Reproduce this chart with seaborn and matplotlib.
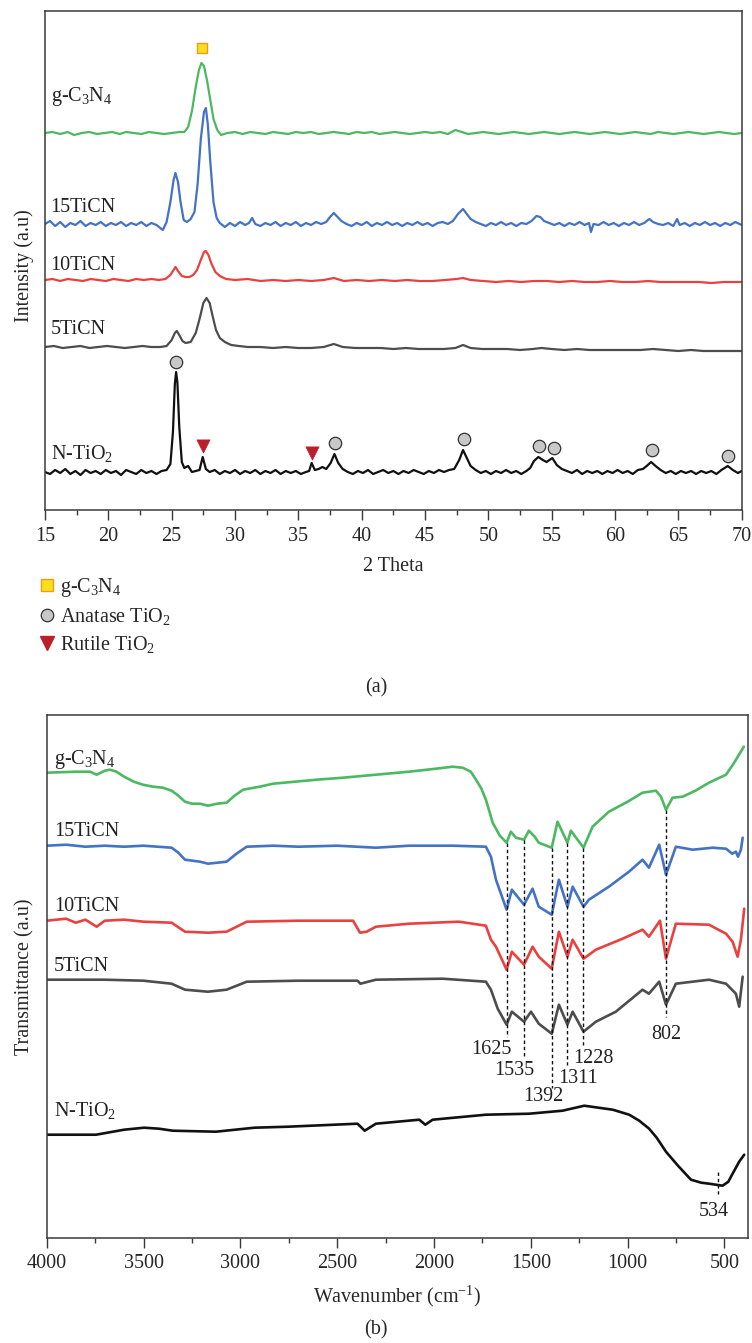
import matplotlib
matplotlib.use("Agg")
import matplotlib.pyplot as plt
from matplotlib.lines import Line2D
from matplotlib.ticker import MultipleLocator
import seaborn as sns
import pandas as pd

# ---------------- (a) XRD, intensities relative to each trace's baseline ----------------
xrd_gcn = [(15.0, 0), (15.6, 1), (16.2, -1), (16.8, 1), (17.3, -2), (17.9, 0), (18.5, 1), (19.1, -1),
           (19.7, 0), (20.3, 1), (20.9, -1), (21.4, 1), (22.0, 0), (22.6, -1), (23.2, 1), (23.8, 0),
           (24.4, -1), (25.0, 0), (25.6, 1), (26.0, 1), (26.3, 6), (26.6, 22), (26.9, 46), (27.15, 63),
           (27.35, 70), (27.55, 67), (27.8, 52), (28.05, 33), (28.3, 14), (28.6, 3), (28.9, -2),
           (29.4, 0), (30.0, 1), (30.6, -1), (31.2, 1), (31.8, 0), (32.4, -1), (33.0, 1), (33.6, 0),
           (34.2, -1), (34.8, 1), (35.4, 0), (36.0, 1), (36.6, -1), (37.2, 0), (37.8, 1), (38.4, 0),
           (39.0, -1), (39.6, 1), (40.2, 0), (40.8, 1), (41.4, -1), (42.0, 0), (42.6, 1), (43.2, 0),
           (43.8, -1), (44.4, 0), (45.0, 1), (45.6, 0), (46.2, 1), (46.8, -1), (47.4, 3), (47.9, 1),
           (48.4, -1), (49.0, 0), (49.6, 1), (50.2, 0), (50.8, -1), (51.4, 0), (52.0, 1), (52.6, 0),
           (53.2, -1), (53.8, 0), (54.4, 1), (55.0, 0), (55.6, -1), (56.2, 0), (56.8, 1), (57.4, 0),
           (58.0, -1), (58.6, 0), (59.2, 1), (59.8, 0), (60.4, -1), (61.0, 0), (61.6, 1), (62.2, 0),
           (62.8, -1), (63.4, 1), (64.0, 0), (64.6, -1), (65.2, 0), (65.8, 1), (66.4, 0), (67.0, -1),
           (67.6, 0), (68.2, 1), (68.8, 0), (69.4, -1), (70.0, 0)]

xrd_15 = [(15.0, 0), (15.4, 3), (15.8, -2), (16.2, 2), (16.6, -3), (17.0, 1), (17.4, -1), (17.8, 3),
          (18.2, -2), (18.6, 1), (19.0, -1), (19.4, 2), (19.8, -2), (20.2, 1), (20.6, -1), (21.0, 2),
          (21.4, -2), (21.8, 1), (22.2, -1), (22.6, 2), (23.0, -2), (23.4, 1), (23.8, -1), (24.3, -6),
          (24.6, 2), (24.9, 22), (25.15, 44), (25.3, 51), (25.5, 42), (25.7, 22), (25.95, 4), (26.2, 2),
          (26.5, 5), (26.8, 12), (27.05, 40), (27.3, 85), (27.55, 112), (27.7, 116), (27.85, 100),
          (28.05, 62), (28.3, 22), (28.55, 6), (28.8, 1), (29.2, -3), (29.6, 1), (30.0, -2), (30.4, 2),
          (30.8, -1), (31.1, 1), (31.35, 6), (31.6, 0), (32.0, -2), (32.4, 1), (32.8, -1), (33.2, 2),
          (33.6, -2), (34.0, 1), (34.4, -1), (34.8, 2), (35.2, -2), (35.6, 1), (36.0, -1), (36.4, 2),
          (36.8, 0), (37.2, 2), (37.5, 7), (37.8, 11), (38.1, 7), (38.4, 3), (38.8, 0), (39.2, -2),
          (39.6, 1), (40.0, -1), (40.4, 2), (40.8, -2), (41.2, 1), (41.6, -1), (42.0, 2), (42.4, -1),
          (42.8, 1), (43.2, -2), (43.6, 1), (44.0, -1), (44.4, 2), (44.8, -1), (45.2, 1), (45.6, -2),
          (46.0, 1), (46.4, 2), (46.8, 0), (47.2, 3), (47.6, 10), (48.0, 15), (48.3, 10), (48.6, 5),
          (49.0, 2), (49.4, 0), (49.8, -2), (50.2, 1), (50.6, -1), (51.0, 2), (51.4, -1), (51.8, 1),
          (52.2, -2), (52.6, 1), (53.0, 0), (53.4, 3), (53.8, 8), (54.1, 7), (54.4, 3), (54.8, 1),
          (55.2, -1), (55.6, 1), (56.0, -2), (56.4, 1), (56.8, -1), (57.2, 2), (57.6, -1), (57.95, 1),
          (58.1, -8), (58.3, 0), (58.7, -1), (59.1, 2), (59.5, -1), (59.9, 1), (60.3, -2), (60.7, 1),
          (61.1, -1), (61.5, 2), (61.9, -1), (62.3, 1), (62.7, 5), (63.0, 2), (63.4, 0), (63.8, -1),
          (64.2, 1), (64.6, -2), (64.9, 5), (65.1, -1), (65.5, 1), (65.9, -2), (66.3, 1), (66.7, -1),
          (67.1, 2), (67.5, -1), (67.9, 1), (68.3, -2), (68.7, 1), (69.1, -1), (69.5, 2), (70.0, -1)]

xrd_10 = [(15.0, 0), (15.6, 1), (16.2, -1), (16.8, 1), (17.4, 0), (18.0, -1), (18.6, 1), (19.2, 0),
          (19.8, -1), (20.4, 1), (21.0, 0), (21.6, -1), (22.2, 1), (22.8, 0), (23.4, 1), (24.0, 0),
          (24.5, 1), (24.9, 5), (25.15, 10), (25.3, 13), (25.5, 9), (25.8, 4), (26.1, 3), (26.4, 3),
          (26.7, 5), (27.0, 10), (27.3, 20), (27.55, 28), (27.7, 29), (27.9, 25), (28.15, 16),
          (28.45, 8), (28.8, 4), (29.3, 1), (30.0, 0), (31.0, 1), (32.0, -1), (33.0, 0), (34.0, -1),
          (35.0, 0), (36.0, -1), (37.0, 0), (37.8, 2), (38.6, -1), (39.6, 0), (40.6, -1), (41.6, 0),
          (42.6, -1), (43.6, 0), (44.6, -1), (45.6, -1), (46.6, 0), (47.5, 1), (48.0, 2), (48.6, 0),
          (49.6, -1), (50.6, -2), (51.6, -1), (52.6, -2), (53.6, -1), (54.6, -1), (55.6, -2),
          (56.6, -1), (57.6, -2), (58.6, -2), (59.6, -1), (60.6, -2), (61.6, -2), (62.6, -1),
          (63.6, -2), (64.6, -2), (65.6, -2), (66.6, -2), (67.6, -3), (68.6, -2), (69.6, -2), (70.0, -2)]

xrd_5 = [(15.0, 0), (15.7, 1), (16.4, -1), (17.1, 0), (17.8, 1), (18.5, -1), (19.2, 0), (19.9, 1),
         (20.6, 0), (21.3, -1), (22.0, 0), (22.7, 1), (23.4, 0), (24.1, 0), (24.6, 1), (25.0, 7),
         (25.25, 14), (25.4, 16), (25.6, 12), (25.85, 6), (26.1, 4), (26.5, 5), (26.9, 14), (27.2, 28),
         (27.5, 44), (27.75, 49), (28.0, 44), (28.25, 30), (28.5, 17), (28.8, 9), (29.2, 5), (29.7, 2),
         (30.3, 1), (31.0, 0), (32.0, 0), (33.0, -1), (34.0, 0), (35.0, -1), (36.0, -1), (37.0, 0),
         (37.8, 3), (38.5, 0), (39.5, -1), (40.5, -1), (41.5, -1), (42.5, -2), (43.5, -1), (44.5, -2),
         (45.5, -2), (46.5, -2), (47.4, -1), (48.0, 2), (48.6, -1), (49.5, -2), (50.5, -2), (51.5, -2),
         (52.5, -3), (53.5, -2), (54.2, -1), (55.0, -2), (56.0, -3), (57.0, -2), (58.0, -3), (59.0, -3),
         (60.0, -3), (61.0, -3), (62.0, -3), (63.0, -2), (64.0, -3), (65.0, -4), (66.0, -3), (67.0, -4),
         (68.0, -4), (69.0, -4), (70.0, -4)]

xrd_ntio2 = [(15.0, 0), (15.4, -2), (15.8, 2), (16.2, -1), (16.6, 3), (17.0, -2), (17.4, 1), (17.8, -3),
             (18.2, 2), (18.6, -1), (19.0, 1), (19.4, -2), (19.8, 2), (20.2, -1), (20.6, 1), (21.0, -3),
             (21.4, 2), (21.8, 0), (22.2, -2), (22.6, 2), (23.0, -1), (23.4, 1), (23.8, -2), (24.2, 1),
             (24.6, 2), (24.9, 8), (25.1, 40), (25.25, 88), (25.35, 100), (25.45, 90), (25.6, 45),
             (25.8, 10), (26.0, 4), (26.3, 6), (26.6, 0), (26.9, 1), (27.2, 2), (27.45, 15), (27.7, 3),
             (28.0, 0), (28.4, 2), (28.8, -2), (29.2, 1), (29.6, -1), (30.0, 2), (30.4, -2), (30.8, 1),
             (31.2, -1), (31.6, 2), (32.0, -2), (32.4, 1), (32.8, -1), (33.2, 2), (33.6, -2), (34.0, 1),
             (34.4, -1), (34.8, 1), (35.2, -2), (35.6, 0), (35.85, 1), (36.05, 9), (36.3, 2), (36.6, 3),
             (36.9, 5), (37.2, 3), (37.55, 9), (37.85, 18), (38.15, 9), (38.5, 3), (38.9, 0), (39.3, -2),
             (39.7, 1), (40.1, -1), (40.5, 2), (40.9, -2), (41.3, 0), (41.7, 2), (42.1, -1), (42.5, 1),
             (42.9, -2), (43.3, 1), (43.7, -1), (44.1, 2), (44.5, 0), (44.9, -2), (45.3, 1), (45.7, -1),
             (46.1, 2), (46.5, 0), (46.9, 2), (47.3, 3), (47.7, 12), (48.0, 22), (48.3, 14), (48.6, 6),
             (49.0, 2), (49.4, -1), (49.8, 1), (50.2, -2), (50.6, 1), (51.0, -1), (51.4, 2), (51.8, -1),
             (52.2, 1), (52.6, -2), (53.0, 1), (53.3, 4), (53.6, 11), (53.95, 15), (54.3, 12), (54.6, 10),
             (55.05, 14), (55.4, 7), (55.8, 3), (56.2, 1), (56.6, -1), (57.0, 2), (57.4, -2), (57.8, 1),
             (58.2, -1), (58.6, 1), (59.0, -2), (59.4, 1), (59.8, -1), (60.2, 2), (60.6, -1), (61.0, 1),
             (61.4, -2), (61.8, 2), (62.2, 3), (62.5, 6), (62.85, 10), (63.2, 6), (63.6, 2), (64.0, -1),
             (64.4, 1), (64.8, -2), (65.2, 1), (65.6, -1), (66.0, 1), (66.4, -2), (66.8, 1), (67.2, -1),
             (67.6, 1), (68.0, -2), (68.4, 2), (68.9, 6), (69.3, 2), (69.7, -1), (70.0, 1)]

xrd_samples = ["g-C$_3$N$_4$", "15TiCN", "10TiCN", "5TiCN", "N-TiO$_2$"]
xrd_traces = [xrd_gcn, xrd_15, xrd_10, xrd_5, xrd_ntio2]
xrd_offsets = [377, 286, 230, 163, 38]
xrd_label_y = [414, 303, 244, 180, 57]

# phase markers (2 theta, intensity)
gcn_marks = [(27.4, 462)]
anatase_marks = [(25.35, 148), (37.9, 67), (48.05, 71), (54.0, 64), (55.15, 62), (62.9, 60), (68.95, 54)]
rutile_marks = [(27.45, 64), (36.05, 57)]

# ---------------- (b) FTIR ----------------
ftir_gcn = [(4000, 465), (3850, 466), (3776, 466), (3742, 463), (3700, 467), (3673, 468), (3640, 466),
            (3600, 461), (3550, 456), (3503, 453), (3450, 451), (3400, 450), (3355, 447), (3320, 442),
            (3286, 436), (3250, 434), (3208, 434), (3167, 432), (3120, 434), (3071, 435), (3030, 442),
            (2986, 448), (2900, 451), (2831, 454), (2606, 458), (2470, 460), (2300, 463), (2129, 466),
            (1990, 469), (1904, 471), (1852, 470), (1810, 466), (1783, 458), (1755, 449), (1732, 438),
            (1712, 425), (1697, 415), (1660, 402), (1625, 395), (1603, 406), (1577, 400), (1535, 398),
            (1510, 407), (1480, 401), (1459, 395), (1392, 390), (1362, 416), (1311, 395), (1293, 407),
            (1228, 390), (1181, 411), (1097, 426), (1000, 436), (923, 445), (854, 447), (828, 441),
            (802, 428), (768, 440), (716, 441), (650, 447), (580, 455), (492, 463), (450, 475), (400, 491)]
ftir_15 = [(4000, 392), (3900, 393), (3800, 391), (3700, 392), (3600, 391), (3500, 392), (3355, 390),
           (3320, 385), (3286, 378), (3208, 376), (3167, 374), (3071, 376), (3020, 384), (2967, 391),
           (2831, 392), (2700, 391), (2500, 392), (2300, 390), (2129, 392), (1900, 392), (1732, 391),
           (1706, 381), (1680, 358), (1625, 328), (1598, 348), (1535, 333), (1491, 349), (1459, 331),
           (1392, 323), (1355, 358), (1311, 331), (1284, 351), (1228, 331), (1200, 338), (1097, 351),
           (993, 366), (923, 378), (890, 370), (837, 393), (802, 363), (751, 391), (664, 388),
           (560, 390), (492, 389), (460, 384), (441, 386), (430, 381), (415, 388), (406, 400)]
ftir_10 = [(4000, 317), (3900, 319), (3850, 315), (3800, 318), (3742, 311), (3700, 317), (3600, 318),
           (3500, 316), (3355, 315), (3286, 306), (3167, 305), (3071, 306), (2967, 316), (2700, 317),
           (2418, 317), (2382, 305), (2348, 306), (2300, 311), (2129, 314), (1871, 316), (1732, 312),
           (1706, 298), (1680, 291), (1625, 268), (1598, 286), (1535, 273), (1491, 291), (1459, 281),
           (1392, 269), (1355, 306), (1311, 281), (1284, 298), (1228, 279), (1164, 288), (1026, 299),
           (923, 308), (890, 301), (833, 317), (802, 279), (751, 314), (580, 313), (492, 304),
           (458, 296), (432, 281), (415, 298), (398, 329)]
ftir_5 = [(4000, 258), (3700, 258), (3500, 257), (3355, 254), (3286, 248), (3167, 246), (3071, 248),
          (2967, 256), (2700, 257), (2395, 257), (2380, 254), (2300, 258), (1955, 259), (1732, 256),
          (1706, 248), (1671, 229), (1625, 213), (1598, 226), (1535, 216), (1499, 226), (1459, 214),
          (1392, 204), (1355, 233), (1311, 213), (1284, 226), (1228, 206), (1164, 216), (1061, 226),
          (923, 248), (890, 244), (837, 256), (802, 233), (751, 254), (580, 258), (492, 254),
          (441, 244), (424, 231), (406, 261)]
ftir_ntio2 = [(4000, 103), (3745, 103), (3600, 108), (3497, 110), (3420, 109), (3349, 107), (3126, 106),
              (2927, 110), (2754, 111), (2395, 114), (2358, 107), (2300, 114), (2076, 118), (2045, 113),
              (2007, 118), (1732, 123), (1508, 124), (1336, 127), (1224, 132), (1077, 128), (992, 123),
              (940, 117), (889, 109), (850, 100), (802, 86), (740, 72), (673, 58), (620, 55), (579, 54),
              (510, 52), (480, 56), (458, 64), (424, 76), (398, 83)]

ftir_samples = xrd_samples
ftir_traces = [ftir_gcn, ftir_15, ftir_10, ftir_5, ftir_ntio2]
ftir_label_y = [478, 406, 331, 271, 127]

# band assignments: (wavenumber, line top, line bottom, label x, label y)
bands = [(1625, 395, 201, 1706, 188), (1535, 398, 181, 1587, 167), (1392, 390, 150, 1435, 141),
         (1311, 395, 173, 1257, 159), (1228, 390, 193, 1179, 179), (802, 428, 221, 802, 203),
         (534, 66, 44, 556, 26)]

colors = ["#4cb862", "#4472c4", "#e8413f", "#4d4d4d", "#111111"]

sns.set_theme(style="white")
plt.rcParams["font.family"] = ["Liberation Serif", "DejaVu Serif"]
plt.rcParams["mathtext.fontset"] = "custom"
plt.rcParams["mathtext.rm"] = "Liberation Serif"
plt.rcParams["mathtext.it"] = "Liberation Serif:italic"
plt.rcParams["mathtext.default"] = "regular"
FS = 14.5

fig = plt.figure(figsize=(7.52, 13.43), dpi=100)
ax1 = fig.add_axes([45 / 752, 1 - 510 / 1343, (741.7 - 45) / 752, 499 / 1343])
ax2 = fig.add_axes([46.7 / 752, 1 - 1237.7 / 1343, (747.7 - 46.7) / 752, 522.7 / 1343])

# --- XRD ---
rows = []
for name, trace, off in zip(xrd_samples, xrd_traces, xrd_offsets):
    for t, v in trace:
        rows.append({"sample": name, "theta": t, "intensity": v + off})
xrd = pd.DataFrame(rows)
sns.lineplot(data=xrd, x="theta", y="intensity", hue="sample", palette=dict(zip(xrd_samples, colors)),
             estimator=None, lw=1.6, legend=False, ax=ax1)
for name, ly in zip(xrd_samples, xrd_label_y):
    ax1.text(15.45, ly, name, fontsize=FS, ha="left", va="center", color="#222222")

mk = dict(ax=ax1, legend=False, zorder=5)
sns.scatterplot(x=[p[0] for p in gcn_marks], y=[p[1] for p in gcn_marks], marker="s", s=60,
                color="#f8e11a", edgecolor="#f29a1e", linewidth=1.0, **mk)
sns.scatterplot(x=[p[0] for p in anatase_marks], y=[p[1] for p in anatase_marks], marker="o", s=80,
                color="#c8c8c8", edgecolor="#333333", linewidth=0.9, **mk)
sns.scatterplot(x=[p[0] for p in rutile_marks], y=[p[1] for p in rutile_marks], marker="v", s=90,
                color="#b8202c", edgecolor="#b8202c", linewidth=0.5, **mk)

ax1.set_xlim(15, 70)
ax1.set_ylim(0, 499)
ax1.xaxis.set_major_locator(MultipleLocator(5))
ax1.xaxis.set_minor_locator(MultipleLocator(2.5))
ax1.set_yticks([])
ax1.set_xlabel("2 Theta", fontsize=FS)
ax1.set_ylabel("Intensity (a.u)", fontsize=FS)
ax1.xaxis.set_label_coords(0.5, -0.095)
ax1.yaxis.set_label_coords(-0.016, 0.49)

handles = [Line2D([], [], ls="none", marker="s", ms=8, mfc="#f8e11a", mec="#f29a1e", mew=1.0),
           Line2D([], [], ls="none", marker="o", ms=9, mfc="#c8c8c8", mec="#333333", mew=0.9),
           Line2D([], [], ls="none", marker="v", ms=10, mfc="#b8202c", mec="#b8202c")]
fig.legend(handles, ["g-C$_3$N$_4$", "Anatase TiO$_2$", "Rutile TiO$_2$"], loc="upper left",
           bbox_to_anchor=(38 / 752, 1 - 576 / 1343), frameon=False, fontsize=FS,
           handlelength=0.9, handletextpad=0.2, labelspacing=0.35, borderpad=0, borderaxespad=0)

# --- FTIR ---
rows = []
for name, trace in zip(ftir_samples, ftir_traces):
    for w, v in trace:
        rows.append({"sample": name, "wavenumber": w, "transmittance": v})
ftir = pd.DataFrame(rows)
sns.lineplot(data=ftir, x="wavenumber", y="transmittance", hue="sample",
             palette=dict(zip(ftir_samples, colors)), estimator=None, lw=1.9, legend=False, ax=ax2)
for name, ly in zip(ftir_samples, ftir_label_y):
    ax2.text(3962, ly, name, fontsize=FS, ha="left", va="center", color="#222222")
for w, top, bot, lx, lyy in bands:
    ax2.plot([w, w], [top, bot], color="#111111", lw=1.0, ls=(0, (2.5, 2)))
    ax2.text(lx, lyy, str(w), fontsize=FS, ha="center", va="center", color="#222222")

ax2.set_xlim(4000, 380)
ax2.set_ylim(0, 522.7)
ax2.xaxis.set_major_locator(MultipleLocator(500))
ax2.xaxis.set_minor_locator(MultipleLocator(250))
ax2.set_yticks([])
ax2.set_xlabel("Wavenumber (cm$^{-1}$)", fontsize=FS)
ax2.set_ylabel("Transmittance (a.u)", fontsize=FS)
ax2.xaxis.set_label_coords(0.5, -0.088)
ax2.yaxis.set_label_coords(-0.018, 0.5)

for ax in (ax1, ax2):
    for sp in ax.spines.values():
        sp.set_color("#3a3a3a")
        sp.set_linewidth(1.1)
    ax.tick_params(axis="x", which="major", direction="out", length=7, width=1.0, color="#3a3a3a",
                   labelsize=FS, pad=5, bottom=True)
    ax.tick_params(axis="x", which="minor", direction="out", length=3.5, width=1.0, color="#3a3a3a",
                   bottom=True)

fig.text(0.5, 1 - 688 / 1343, "(a)", fontsize=FS, ha="center", va="center")
fig.text(0.5, 1 - 1330 / 1343, "(b)", fontsize=FS, ha="center", va="center")

fig.savefig("out.png", dpi=100)
